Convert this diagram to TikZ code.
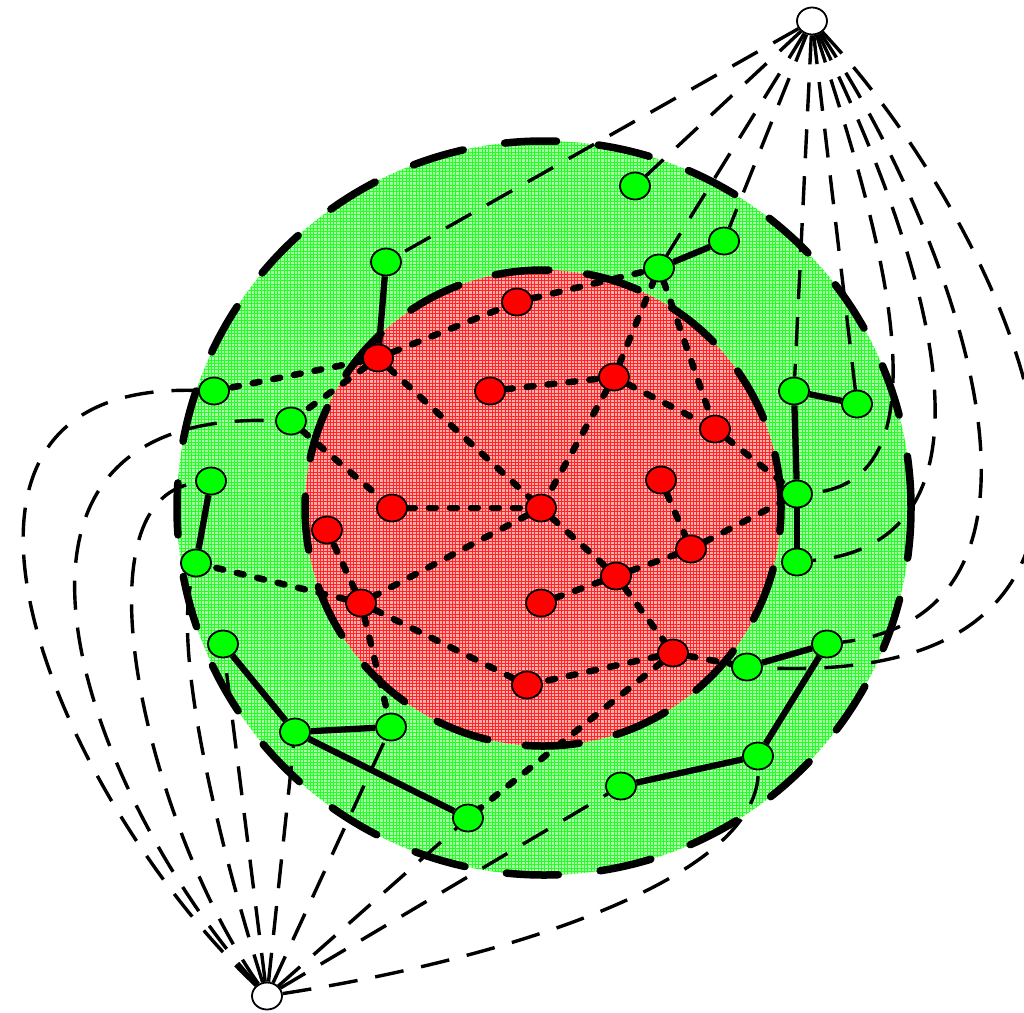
\documentclass[tikz,border=0pt]{standalone}
\usetikzlibrary{shapes.geometric}
\pgfdeclarelayer{bg}
\pgfdeclarelayer{edges}
\pgfsetlayers{bg,edges,main}
\begin{document}
\begin{tikzpicture}[x=1pt,y=-1pt,
  vtx/.style={ellipse,draw=black,line width=1.8pt,inner sep=0pt,minimum width=30pt,minimum height=27pt},
  gnode/.style={vtx,fill=green},
  rnode/.style={vtx,fill=red},
  wnode/.style={vtx,fill=white},
  tree/.style={line width=6.3pt},
  core/.style={line width=6.5pt,line cap=round,dash pattern=on 7pt off 14pt},
  link/.style={line width=3.4pt,dash pattern=on 29pt off 18pt},
  ring/.style={line width=7.5pt,line cap=round,dash pattern=on 52pt off 42pt},
  innerring/.style={line width=7.5pt,line cap=round,dash pattern=on 54pt off 38pt},
  gridlines/.style={line width=0.3pt,step=3.3pt}]
\useasboundingbox (0,0) rectangle (1024,1012);

% nodes
\node[wnode] (W1) at (812,21) {};
\node[wnode] (W2) at (267,996) {};
\node[gnode] (G1) at (635,186) {};
\node[gnode] (G2) at (724,241) {};
\node[gnode] (G3) at (659,268) {};
\node[gnode] (G4) at (386,262) {};
\node[gnode] (G5) at (214,391) {};
\node[gnode] (G6) at (291,421) {};
\node[gnode] (G7) at (211,481) {};
\node[gnode] (G8) at (196,563) {};
\node[gnode] (G9) at (794,391) {};
\node[gnode] (G10) at (857,404) {};
\node[gnode] (G11) at (797,494) {};
\node[gnode] (G12) at (797,562) {};
\node[gnode] (G13) at (223,644) {};
\node[gnode] (G14) at (295,732) {};
\node[gnode] (G15) at (391,727) {};
\node[gnode] (G16) at (468,818) {};
\node[gnode] (G17) at (747,667) {};
\node[gnode] (G18) at (827,644) {};
\node[gnode] (G19) at (758,756) {};
\node[gnode] (G20) at (621,786) {};
\node[rnode] (R1) at (517,302) {};
\node[rnode] (R2) at (378,358) {};
\node[rnode] (R3) at (490,391) {};
\node[rnode] (R4) at (614,377) {};
\node[rnode] (R5) at (715,429) {};
\node[rnode] (R6) at (661,480) {};
\node[rnode] (R7) at (392,508) {};
\node[rnode] (R8) at (541,508) {};
\node[rnode] (R9) at (327,530) {};
\node[rnode] (R10) at (691,549) {};
\node[rnode] (R11) at (616,576) {};
\node[rnode] (R12) at (361,603) {};
\node[rnode] (R13) at (541,603) {};
\node[rnode] (R14) at (673,653) {};
\node[rnode] (R15) at (527,685) {};

% disks
\begin{pgfonlayer}{bg}
\begin{scope}
\clip (544,508) circle[radius=367pt];
\fill[green!32!white] (170,134) rectangle (920,884);
\draw[gridlines,green!85!white] (170,134) grid (920,884);
\end{scope}
\begin{scope}
\clip (543,508) circle[radius=238pt];
\fill[red!32!white] (300,265) rectangle (790,750);
\draw[gridlines,red!85!white] (300,265) grid (790,750);
\end{scope}
\draw[ring] (544,508) circle[radius=367pt];
\draw[innerring] (543,508) circle[radius=238pt];
\end{pgfonlayer}

\begin{pgfonlayer}{edges}
% solid tree edges
\draw[tree] (G4) -- (R2);
\draw[tree] (G3) -- (G2);
\draw[tree] (G9) -- (G10);
\draw[tree] (G9) -- (G11);
\draw[tree] (G11) -- (G12);
\draw[tree] (G7) -- (G8);
\draw[tree] (G13) -- (G14);
\draw[tree] (G14) -- (G15);
\draw[tree] (G14) -- (G16);
\draw[tree] (G17) -- (G18);
\draw[tree] (G18) -- (G19);
\draw[tree] (G19) -- (G20);
% core dashed edges
\draw[core] (R2) -- (R1);
\draw[core] (R1) -- (G3);
\draw[core] (R2) -- (G5);
\draw[core] (R2) -- (G6);
\draw[core] (R2) -- (R8);
\draw[core] (G6) -- (R7);
\draw[core] (R7) -- (R8);
\draw[core] (R3) -- (R4);
\draw[core] (R4) -- (G3);
\draw[core] (R4) -- (R8);
\draw[core] (R4) -- (R5);
\draw[core] (G3) -- (R5);
\draw[core] (R5) -- (G11);
\draw[core] (R6) -- (R10);
\draw[core] (R10) -- (G11);
\draw[core] (R8) -- (R12);
\draw[core] (R8) -- (R11);
\draw[core] (R11) -- (R13);
\draw[core] (R11) -- (R10);
\draw[core] (R11) -- (R14);
\draw[core] (R14) -- (R15);
\draw[core] (R14) -- (G17);
\draw[core] (R14) -- (G16);
\draw[core] (R12) -- (R15);
\draw[core] (R12) -- (G8);
\draw[core] (R12) -- (R9);
\draw[core] (R12) -- (G15);
% links from top white node
\draw[link] (W1) -- (G4);
\draw[link] (W1) -- (G1);
\draw[link] (W1) -- (G3);
\draw[link] (W1) -- (G2);
\draw[link] (W1) -- (G9);
\draw[link] (W1) -- (G10);
\draw[link] (W1) .. controls (870,200) and (960,480) .. (G11);
\draw[link] (W1) .. controls (910,220) and (1030,540) .. (G12);
\draw[link] (W1) .. controls (935,200) and (1105,610) .. (G18);
\draw[link] (W1) .. controls (1000,220) and (1230,690) .. (G17);
% links from bottom white node
\draw[link] (W2) .. controls (55,795) and (-120,380) .. (G5);
\draw[link] (W2) .. controls (90,800) and (-60,410) .. (G6);
\draw[link] (W2) .. controls (150,830) and (70,500) .. (G7);
\draw[link] (W2) .. controls (230,880) and (170,660) .. (G8);
\draw[link] (W2) -- (G13);
\draw[link] (W2) -- (G14);
\draw[link] (W2) -- (G15);
\draw[link] (W2) -- (G16);
\draw[link] (W2) -- (G20);
\draw[link] (W2) .. controls (500,960) and (760,880) .. (G19);
\end{pgfonlayer}
\end{tikzpicture}
\end{document}
